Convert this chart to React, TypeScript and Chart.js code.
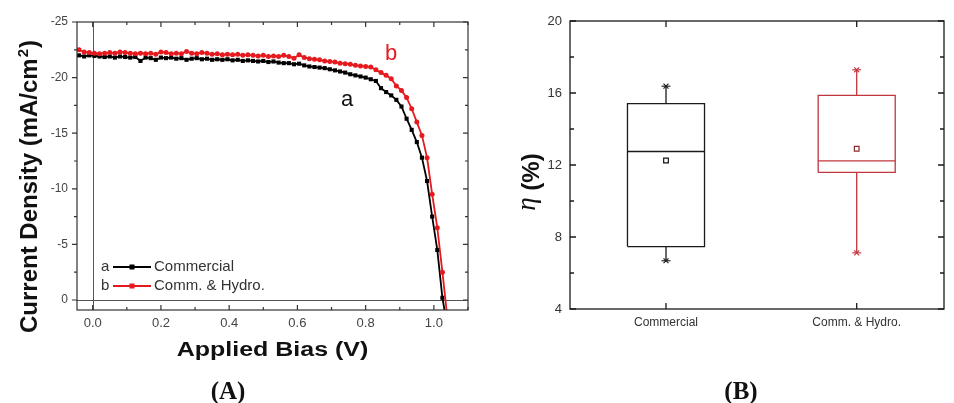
import React, { useEffect, useRef } from "react";
import { Chart, registerables } from "chart.js";
Chart.register(...registerables);

const SANS = '"Liberation Sans", Arial, sans-serif';
const SERIF = '"Liberation Serif", "Times New Roman", serif';

// ---------- Panel A data: J–V curves ----------
const biasV = [
  -0.04, -0.025, -0.01, 0.005, 0.02, 0.035, 0.05, 0.065, 0.08, 0.095, 0.11, 0.125, 0.14, 0.155, 0.17,
  0.185, 0.2, 0.215, 0.23, 0.245, 0.26, 0.275, 0.29, 0.305, 0.32, 0.335, 0.35, 0.365, 0.38, 0.395,
  0.41, 0.425, 0.44, 0.455, 0.47, 0.485, 0.5, 0.515, 0.53, 0.545, 0.56, 0.575, 0.59, 0.605, 0.62,
  0.635, 0.65, 0.665, 0.68, 0.695, 0.71, 0.725, 0.74, 0.755, 0.77, 0.785, 0.8, 0.815, 0.83, 0.845,
  0.86, 0.875, 0.89, 0.905, 0.92, 0.935, 0.95, 0.965, 0.98, 0.995, 1.01, 1.025, 1.04,
];
const jCommercial = [
  -22.0, -21.9, -22.0, -21.95, -21.9, -21.85, -21.9, -21.8, -21.9, -21.85, -21.8, -21.85, -21.5, -21.8, -21.75,
  -21.6, -21.8, -21.75, -21.8, -21.7, -21.75, -21.6, -21.7, -21.75, -21.65, -21.7, -21.6, -21.65, -21.6, -21.65,
  -21.55, -21.6, -21.5, -21.55, -21.5, -21.45, -21.5, -21.4, -21.45, -21.35, -21.3, -21.3, -21.2, -21.25, -21.1,
  -21.0, -20.95, -20.9, -20.85, -20.75, -20.65, -20.55, -20.45, -20.3, -20.2, -20.1, -20.0, -19.85, -19.7, -19.05,
  -18.7, -18.4, -18.0, -17.4, -16.3, -15.3, -14.2, -12.8, -10.7, -7.5, -4.5, -0.2, 2.5,
];
const jHydro = [
  -22.5, -22.3, -22.25, -22.2, -22.15, -22.2, -22.25, -22.2, -22.3, -22.25, -22.2, -22.15, -22.2, -22.15, -22.2,
  -22.1, -22.3, -22.25, -22.15, -22.2, -22.15, -22.35, -22.2, -22.15, -22.25, -22.2, -22.1, -22.15, -22.05, -22.1,
  -22.05, -22.1, -22.0, -22.05, -22.0, -21.95, -22.0, -21.9, -21.95, -21.9, -22.0, -21.9, -21.75, -22.05, -21.8,
  -21.7, -21.65, -21.6, -21.5, -21.45, -21.4, -21.3, -21.25, -21.2, -21.1, -21.05, -21.0, -20.95, -20.7, -20.45,
  -20.2, -19.9, -19.25, -18.85, -18.2, -17.2, -16.0, -14.8, -12.8, -9.5, -6.5, -2.5, 1.7,
];
const seriesTags = ["a", "b"];
const seriesLabels = ["Commercial", "Comm. & Hydro."];
const tagAnchorA = { v: 0.746, j: -18.0 };
const tagAnchorB = { v: 0.875, j: -22.1 };

// ---------- Panel B data: efficiency box plot ----------
const categories = ["Commercial", "Comm. & Hydro."];
const effMin = [6.68, 7.12];
const effQ1 = [7.47, 11.59];
const effMedian = [12.75, 12.23];
const effQ3 = [15.41, 15.87];
const effMax = [16.38, 17.29];
const effMean = [12.25, 12.9];

const BLACK = "#000000";
const RED = "#e5191e";
const BOX_COLORS = ["#1a1a1a", "#c1363d"];
const BOX_HALF = 0.202;

type FrameOpts = {
  color: string;
  width: number;
  major: number;
  minor: number;
  xMinor: boolean;
  yMinor: boolean;
  leftOut: boolean;
  zeroLines?: boolean;
};

function minorValues(scale: any): number[] {
  const vals = scale.ticks.map((t: any) => t.value);
  if (vals.length < 2) return [];
  const step = vals[1] - vals[0];
  const lo = Math.min(scale.min, scale.max) - 1e-9;
  const hi = Math.max(scale.min, scale.max) + 1e-9;
  const out: number[] = [];
  for (let k = -1; k < vals.length; k++) {
    const v = vals[0] + (k + 0.5) * step;
    if (v >= lo && v <= hi) out.push(v);
  }
  return out;
}

function makeFramePlugin(o: FrameOpts) {
  return {
    id: "frameTicks",
    beforeDatasetsDraw(chart: any) {
      if (!o.zeroLines) return;
      const { ctx, chartArea: a, scales } = chart;
      const x0 = Math.round(scales.x.getPixelForValue(0)) + 0.5;
      const y0 = Math.round(scales.y.getPixelForValue(0)) + 0.5;
      ctx.save();
      ctx.strokeStyle = "#555";
      ctx.lineWidth = 1;
      ctx.beginPath();
      ctx.moveTo(x0, a.top);
      ctx.lineTo(x0, a.bottom);
      ctx.moveTo(a.left, y0);
      ctx.lineTo(a.right, y0);
      ctx.stroke();
      ctx.restore();
    },
    afterDatasetsDraw(chart: any) {
      const { ctx, chartArea: a, scales } = chart;
      const xs = scales.x;
      const ys = scales.y;
      ctx.save();
      ctx.strokeStyle = o.color;
      ctx.lineWidth = o.width;
      ctx.strokeRect(a.left, a.top, a.right - a.left, a.bottom - a.top);
      ctx.beginPath();
      const xTick = (v: number, len: number) => {
        const p = xs.getPixelForValue(v);
        ctx.moveTo(p, a.bottom);
        ctx.lineTo(p, a.bottom - len);
        ctx.moveTo(p, a.top);
        ctx.lineTo(p, a.top + len);
      };
      const yTick = (v: number, len: number) => {
        const p = ys.getPixelForValue(v);
        ctx.moveTo(a.left, p);
        ctx.lineTo(o.leftOut ? a.left - len : a.left + len, p);
        ctx.moveTo(a.right, p);
        ctx.lineTo(a.right - len, p);
      };
      xs.ticks.forEach((t: any) => xTick(t.value, o.major));
      ys.ticks.forEach((t: any) => yTick(t.value, o.major));
      if (o.xMinor) minorValues(xs).forEach((v) => xTick(v, o.minor));
      if (o.yMinor) minorValues(ys).forEach((v) => yTick(v, o.minor));
      ctx.stroke();
      ctx.restore();
    },
  };
}

const textPluginA = {
  id: "textA",
  afterDraw(chart: any) {
    const { ctx, chartArea: a, scales } = chart;
    ctx.save();
    // y title with superscript
    ctx.translate(28, 186.5);
    ctx.rotate(-Math.PI / 2);
    ctx.fillStyle = "#111";
    ctx.textAlign = "left";
    ctx.textBaseline = "alphabetic";
    const main = "bold 24px " + SANS;
    const sup = "bold 15px " + SANS;
    ctx.font = main;
    const t1 = "Current Density (mA/cm";
    const w1 = ctx.measureText(t1).width;
    const w3 = ctx.measureText(")").width;
    ctx.font = sup;
    const w2 = ctx.measureText("2").width;
    const total = w1 + w2 + 2 + w3;
    let x = -total / 2;
    const base = 8.5;
    ctx.font = main;
    ctx.fillText(t1, x, base);
    x += w1 + 1;
    ctx.font = sup;
    ctx.fillText("2", x, base - 9);
    x += w2 + 1;
    ctx.font = main;
    ctx.fillText(")", x, base);
    ctx.restore();

    // x title (horizontally stretched as in reference)
    ctx.save();
    ctx.translate((a.left + a.right) / 2, a.bottom + 45.5);
    ctx.scale(1.25, 1);
    ctx.font = "bold 20px " + SANS;
    ctx.fillStyle = "#111";
    ctx.textAlign = "center";
    ctx.textBaseline = "alphabetic";
    ctx.fillText("Applied Bias (V)", 0, 0);
    ctx.restore();

    // legend
    ctx.save();
    const rows = [
      { tag: seriesTags[0], label: seriesLabels[0], color: BLACK, y: a.bottom - 43 },
      { tag: seriesTags[1], label: seriesLabels[1], color: RED, y: a.bottom - 24 },
    ];
    rows.forEach((r) => {
      ctx.font = "15px " + SANS;
      ctx.fillStyle = "#333";
      ctx.textAlign = "left";
      ctx.textBaseline = "middle";
      ctx.fillText(r.tag, a.left + 24, r.y);
      ctx.strokeStyle = r.color;
      ctx.lineWidth = 1.8;
      ctx.beginPath();
      ctx.moveTo(a.left + 36, r.y);
      ctx.lineTo(a.left + 74, r.y);
      ctx.stroke();
      ctx.fillStyle = r.color;
      ctx.fillRect(a.left + 52.5, r.y - 2.5, 5, 5);
      ctx.fillStyle = "#333";
      ctx.fillText(r.label, a.left + 77, r.y);
    });
    // curve tags
    ctx.font = "22px " + SANS;
    ctx.textAlign = "center";
    ctx.textBaseline = "middle";
    ctx.fillStyle = "#111";
    ctx.fillText(seriesTags[0], scales.x.getPixelForValue(tagAnchorA.v), scales.y.getPixelForValue(tagAnchorA.j));
    ctx.fillStyle = RED;
    ctx.fillText(seriesTags[1], scales.x.getPixelForValue(tagAnchorB.v), scales.y.getPixelForValue(tagAnchorB.j));
    ctx.restore();
  },
};

const textPluginB = {
  id: "textB",
  afterDraw(chart: any) {
    const { ctx } = chart;
    ctx.save();
    ctx.translate(50, 182);
    ctx.rotate(-Math.PI / 2);
    ctx.fillStyle = "#111";
    ctx.textBaseline = "alphabetic";
    ctx.textAlign = "left";
    const etaFont = "italic 27px " + SERIF;
    const restFont = "bold 24px " + SANS;
    ctx.font = etaFont;
    const we = ctx.measureText("η").width;
    ctx.font = restFont;
    const wr = ctx.measureText(" (%)").width;
    let x = -(we + wr) / 2;
    ctx.font = etaFont;
    ctx.fillText("η", x, 5);
    x += we;
    ctx.font = restFont;
    ctx.fillText(" (%)", x, 8.5);
    ctx.restore();
  },
};

export default function App() {
  const refA = useRef<HTMLCanvasElement | null>(null);
  const refB = useRef<HTMLCanvasElement | null>(null);

  useEffect(() => {
    const tickFontA = { family: SANS, size: 13 };
    const chartA = new Chart(refA.current as HTMLCanvasElement, {
      type: "scatter",
      data: {
        datasets: [
          {
            label: seriesLabels[1],
            data: biasV.map((v, i) => ({ x: v, y: jHydro[i] })),
            showLine: true,
            borderColor: RED,
            backgroundColor: RED,
            borderWidth: 1.8,
            pointStyle: "circle",
            pointRadius: 2.5,
            pointBorderWidth: 0,
            pointHoverRadius: 0,
            order: 0,
          },
          {
            label: seriesLabels[0],
            data: biasV.map((v, i) => ({ x: v, y: jCommercial[i] })),
            showLine: true,
            borderColor: BLACK,
            backgroundColor: BLACK,
            borderWidth: 1.8,
            pointStyle: "rect",
            pointRadius: 2.9,
            pointBorderWidth: 0,
            pointHoverRadius: 0,
            order: 1,
          },
        ],
      },
      options: {
        animation: false,
        responsive: false,
        maintainAspectRatio: false,
        devicePixelRatio: 1,
        events: [],
        layout: { padding: { top: 22, right: 12, left: 0, bottom: 0 } },
        plugins: { legend: { display: false }, tooltip: { enabled: false } },
        scales: {
          x: {
            type: "linear",
            min: -0.046,
            max: 1.1,
            grid: { display: false, drawTicks: false },
            border: { display: false },
            ticks: {
              stepSize: 0.2,
              includeBounds: false,
              padding: 6,
              color: "#444",
              font: tickFontA,
              maxRotation: 0,
              autoSkip: false,
              callback: (v: any) => Number(v).toFixed(1),
            },
            afterFit: (s: any) => {
              s.height = 93;
            },
          },
          y: {
            type: "linear",
            reverse: true,
            min: -25,
            max: 0.9,
            grid: { display: false, drawTicks: false },
            border: { display: false },
            ticks: {
              stepSize: 5,
              includeBounds: false,
              padding: 9,
              color: "#444",
              font: { family: SANS, size: 12 },
              callback: (v: any) => String(v),
            },
            afterFit: (s: any) => {
              s.width = 77;
            },
          },
        },
      } as any,
      plugins: [
        makeFramePlugin({ color: "#333", width: 1.2, major: 5, minor: 3, xMinor: true, yMinor: true, leftOut: true, zeroLines: true }),
        textPluginA,
      ],
    });

    const dsB: any[] = [];
    categories.forEach((_, i) => {
      const p = i + 1;
      const c = BOX_COLORS[i];
      const line = { showLine: true, borderColor: c, backgroundColor: c, borderWidth: 1.3, pointRadius: 0, pointHoverRadius: 0 };
      dsB.push({
        ...line,
        data: [
          { x: p - BOX_HALF, y: effQ1[i] },
          { x: p + BOX_HALF, y: effQ1[i] },
          { x: p + BOX_HALF, y: effQ3[i] },
          { x: p - BOX_HALF, y: effQ3[i] },
          { x: p - BOX_HALF, y: effQ1[i] },
        ],
      });
      dsB.push({ ...line, data: [{ x: p - BOX_HALF, y: effMedian[i] }, { x: p + BOX_HALF, y: effMedian[i] }] });
      dsB.push({ ...line, data: [{ x: p, y: effQ3[i] }, { x: p, y: effMax[i] }] });
      dsB.push({ ...line, data: [{ x: p, y: effQ1[i] }, { x: p, y: effMin[i] }] });
      dsB.push({
        data: [{ x: p, y: effMax[i] }, { x: p, y: effMin[i] }],
        showLine: false,
        pointStyle: "crossRot",
        pointRadius: 3.5,
        borderColor: c,
        borderWidth: 1.1,
        pointHoverRadius: 0,
      });
      dsB.push({
        data: [{ x: p, y: effMax[i] }, { x: p, y: effMin[i] }],
        showLine: false,
        pointStyle: "line",
        pointRadius: 4.5,
        borderColor: c,
        borderWidth: 1.1,
        pointHoverRadius: 0,
      });
      dsB.push({
        data: [{ x: p, y: effMean[i] }],
        showLine: false,
        pointStyle: "rect",
        pointRadius: 3.3,
        borderColor: i === 0 ? "#111" : "#8a2a2e",
        backgroundColor: "#ffffff",
        borderWidth: 1.2,
        pointHoverRadius: 0,
      });
    });

    const chartB = new Chart(refB.current as HTMLCanvasElement, {
      type: "scatter",
      data: { datasets: dsB },
      options: {
        animation: false,
        responsive: false,
        maintainAspectRatio: false,
        devicePixelRatio: 1,
        events: [],
        layout: { padding: { top: 21, right: 10, left: 0, bottom: 0 } },
        plugins: { legend: { display: false }, tooltip: { enabled: false } },
        scales: {
          x: {
            type: "linear",
            min: 0.4966,
            max: 2.4578,
            grid: { display: false, drawTicks: false },
            border: { display: false },
            ticks: {
              stepSize: 1,
              includeBounds: false,
              padding: 6,
              color: "#333",
              font: { family: SANS, size: 12 },
              maxRotation: 0,
              autoSkip: false,
              callback: (v: any) => categories[Math.round(Number(v)) - 1] ?? "",
            },
            afterFit: (s: any) => {
              s.height = 94;
            },
          },
          y: {
            type: "linear",
            min: 4,
            max: 20,
            grid: { display: false, drawTicks: false },
            border: { display: false },
            ticks: {
              stepSize: 4,
              includeBounds: false,
              padding: 8,
              color: "#333",
              font: { family: SANS, size: 13 },
              callback: (v: any) => String(v),
            },
            afterFit: (s: any) => {
              s.width = 90;
            },
          },
        },
      } as any,
      plugins: [
        makeFramePlugin({ color: "#1a1a1a", width: 1.3, major: 6, minor: 4, xMinor: false, yMinor: true, leftOut: false }),
        textPluginB,
      ],
    });

    return () => {
      chartA.destroy();
      chartB.destroy();
    };
  }, []);

  const panelLabel: React.CSSProperties = {
    position: "absolute",
    top: 390,
    transform: "translate(-50%, -50%)",
    font: "bold 25px " + SERIF,
    lineHeight: 1,
    whiteSpace: "nowrap",
    color: "#111",
  };

  return (
    <div style={{ position: "fixed", left: 0, top: 0, width: 954, height: 403, background: "#fff", overflow: "hidden" }}>
      <canvas ref={refA} width={480} height={403} style={{ position: "absolute", left: 0, top: 0 }} />
      <canvas ref={refB} width={474} height={403} style={{ position: "absolute", left: 480, top: 0 }} />
      <div style={{ ...panelLabel, left: 228 }}>(A)</div>
      <div style={{ ...panelLabel, left: 741 }}>(B)</div>
    </div>
  );
}
